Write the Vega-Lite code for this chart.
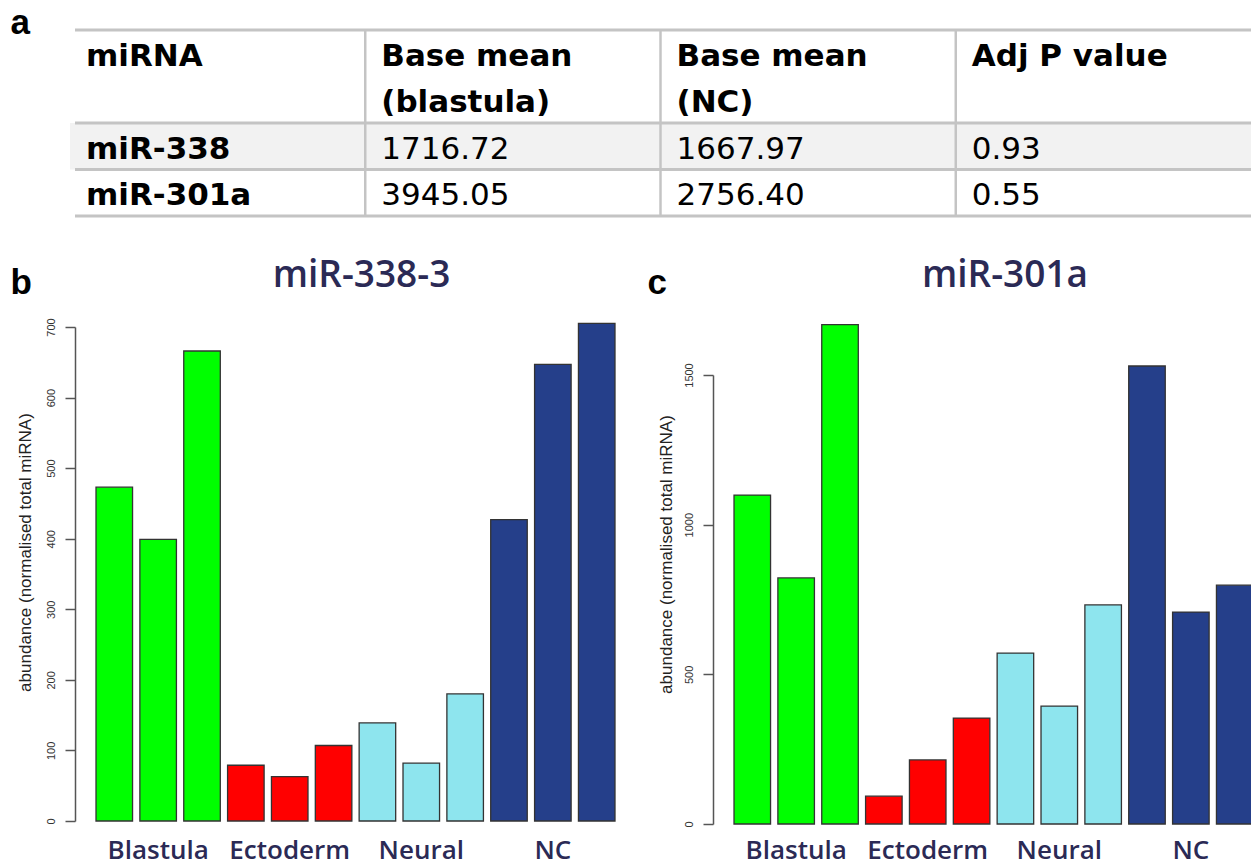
{
  "$schema": "https://vega.github.io/schema/vega-lite/v6.json",
  "background": "white",
  "padding": {"left": 10, "top": 5, "right": 0, "bottom": 0},
  "config": {"view": {"stroke": null}},
  "datasets": {
    "table": [
      {"row": "h1", "col": "c1", "text": "miRNA", "kind": "header"},
      {"row": "h1", "col": "c2", "text": "Base mean", "kind": "header"},
      {"row": "h1", "col": "c3", "text": "Base mean", "kind": "header"},
      {"row": "h1", "col": "c4", "text": "Adj P value", "kind": "header"},
      {"row": "h2", "col": "c1", "text": "", "kind": "header"},
      {"row": "h2", "col": "c2", "text": "(blastula)", "kind": "header"},
      {"row": "h2", "col": "c3", "text": "(NC)", "kind": "header"},
      {"row": "h2", "col": "c4", "text": "", "kind": "header"},
      {"row": "r1", "col": "c1", "text": "miR-338", "kind": "name"},
      {"row": "r1", "col": "c2", "text": "1716.72", "kind": "value"},
      {"row": "r1", "col": "c3", "text": "1667.97", "kind": "value"},
      {"row": "r1", "col": "c4", "text": "0.93", "kind": "value"},
      {"row": "r2", "col": "c1", "text": "miR-301a", "kind": "name"},
      {"row": "r2", "col": "c2", "text": "3945.05", "kind": "value"},
      {"row": "r2", "col": "c3", "text": "2756.40", "kind": "value"},
      {"row": "r2", "col": "c4", "text": "0.55", "kind": "value"}
    ],
    "mir338": [
      {"group": "Blastula", "rep": 1, "value": 473},
      {"group": "Blastula", "rep": 2, "value": 399},
      {"group": "Blastula", "rep": 3, "value": 666},
      {"group": "Ectoderm", "rep": 1, "value": 79},
      {"group": "Ectoderm", "rep": 2, "value": 63},
      {"group": "Ectoderm", "rep": 3, "value": 107},
      {"group": "Neural", "rep": 1, "value": 139},
      {"group": "Neural", "rep": 2, "value": 82},
      {"group": "Neural", "rep": 3, "value": 180},
      {"group": "NC", "rep": 1, "value": 427},
      {"group": "NC", "rep": 2, "value": 647},
      {"group": "NC", "rep": 3, "value": 705}
    ],
    "mir301": [
      {"group": "Blastula", "rep": 1, "value": 1099},
      {"group": "Blastula", "rep": 2, "value": 822},
      {"group": "Blastula", "rep": 3, "value": 1668},
      {"group": "Ectoderm", "rep": 1, "value": 93},
      {"group": "Ectoderm", "rep": 2, "value": 214},
      {"group": "Ectoderm", "rep": 3, "value": 354},
      {"group": "Neural", "rep": 1, "value": 571},
      {"group": "Neural", "rep": 2, "value": 394},
      {"group": "Neural", "rep": 3, "value": 732},
      {"group": "NC", "rep": 1, "value": 1530},
      {"group": "NC", "rep": 2, "value": 708},
      {"group": "NC", "rep": 3, "value": 798}
    ]
  },
  "columns": 1,
  "align": "none",
  "spacing": 39,
  "concat": [
    {
      "width": 1176,
      "height": 186,
      "data": {"name": "table"},
      "layer": [
        {
          "transform": [{"filter": "datum.row === 'r1'"}],
          "mark": {"type": "rect", "fill": "#f2f2f2"},
          "encoding": {
            "x": {"field": "col", "type": "nominal", "sort": ["c1", "c2", "c3", "c4"], "scale": {"paddingInner": 0, "paddingOuter": 0, "range": [-5, 1176]},
              "axis": {"orient": "top", "domain": false, "ticks": false, "labels": false, "grid": false, "title": "a", "titleX": -65, "titleY": 3, "titleAlign": "left", "titleBaseline": "alphabetic", "titleAngle": 0, "titleFont": "Liberation Sans", "titleFontSize": 35, "titleFontWeight": "bold", "titleColor": "#000000"}},
            "y": {"field": "row", "type": "nominal", "sort": ["h1", "h2", "r1", "r2"], "scale": {"paddingInner": 0, "paddingOuter": 0}, "axis": null}
          }
        },
        {
          "transform": [{"filter": "datum.col === 'c1' && datum.row !== 'h2'"}],
          "mark": {"type": "rule", "color": "#c4c4c4", "strokeWidth": 3},
          "encoding": {
            "y": {"field": "row", "type": "nominal", "sort": ["h1", "h2", "r1", "r2"], "bandPosition": 0, "axis": null}
          }
        },
        {
          "transform": [{"filter": "datum.col === 'c1' && datum.row === 'r2'"}],
          "mark": {"type": "rule", "color": "#c4c4c4", "strokeWidth": 3},
          "encoding": {
            "y": {"field": "row", "type": "nominal", "sort": ["h1", "h2", "r1", "r2"], "bandPosition": 1, "axis": null}
          }
        },
        {
          "transform": [{"filter": "datum.row === 'h1' && datum.col !== 'c1'"}],
          "mark": {"type": "rule", "color": "#c4c4c4", "strokeWidth": 2.5},
          "encoding": {
            "x": {"field": "col", "type": "nominal", "sort": ["c1", "c2", "c3", "c4"], "bandPosition": 0,
              "axis": {"orient": "top", "domain": false, "ticks": false, "labels": false, "grid": false, "title": "a", "titleX": -65, "titleY": 3, "titleAlign": "left", "titleBaseline": "alphabetic", "titleAngle": 0, "titleFont": "Liberation Sans", "titleFontSize": 35, "titleFontWeight": "bold", "titleColor": "#000000"}}
          }
        },
        {
          "transform": [{"filter": "datum.kind !== 'value'"}],
          "mark": {"type": "text", "align": "left", "baseline": "alphabetic", "dx": 16, "font": "DejaVu Sans", "fontSize": 31, "fontWeight": "bold", "color": "#000000"},
          "encoding": {
            "x": {"field": "col", "type": "nominal", "sort": ["c1", "c2", "c3", "c4"], "bandPosition": 0,
              "axis": {"orient": "top", "domain": false, "ticks": false, "labels": false, "grid": false, "title": "a", "titleX": -65, "titleY": 3, "titleAlign": "left", "titleBaseline": "alphabetic", "titleAngle": 0, "titleFont": "Liberation Sans", "titleFontSize": 35, "titleFontWeight": "bold", "titleColor": "#000000"}},
            "y": {"field": "row", "type": "nominal", "sort": ["h1", "h2", "r1", "r2"], "bandPosition": 0.77, "axis": null},
            "text": {"field": "text"}
          }
        },
        {
          "transform": [{"filter": "datum.kind === 'value'"}],
          "mark": {"type": "text", "align": "left", "baseline": "alphabetic", "dx": 16, "font": "DejaVu Sans", "fontSize": 31, "fontWeight": "normal", "color": "#000000"},
          "encoding": {
            "x": {"field": "col", "type": "nominal", "sort": ["c1", "c2", "c3", "c4"], "bandPosition": 0,
              "axis": {"orient": "top", "domain": false, "ticks": false, "labels": false, "grid": false, "title": "a", "titleX": -65, "titleY": 3, "titleAlign": "left", "titleBaseline": "alphabetic", "titleAngle": 0, "titleFont": "Liberation Sans", "titleFontSize": 35, "titleFontWeight": "bold", "titleColor": "#000000"}},
            "y": {"field": "row", "type": "nominal", "sort": ["h1", "h2", "r1", "r2"], "bandPosition": 0.77, "axis": null},
            "text": {"field": "text"}
          }
        }
      ]
    },
    {
      "columns": 2,
      "align": "none",
      "spacing": 11,
      "concat": [
        {
          "width": 561,
          "height": 494,
          "data": {"name": "mir338"},
          "title": {"text": "miR-338-3", "font": "Open Sans", "fontSize": 37, "fontWeight": 600, "color": "#2b2a55", "anchor": "middle", "frame": "group", "dx": 6, "baseline": "alphabetic", "offset": -59},
          "mark": {"type": "bar", "stroke": "#333333", "strokeWidth": 1.3},
          "encoding": {
            "x": {"field": "group", "type": "nominal", "sort": ["Blastula", "Ectoderm", "Neural", "NC"], "scale": {"paddingInner": 0, "paddingOuter": 0.132},
              "axis": {"title": "b", "titleX": -65, "titleY": -528, "titleAlign": "left", "titleBaseline": "alphabetic", "titleAngle": 0, "titleFont": "Liberation Sans", "titleFontSize": 35, "titleFontWeight": "bold", "titleColor": "#000000", "domain": false, "ticks": false, "grid": false, "labelAngle": 0, "labelFont": "Open Sans", "labelFontSize": 26, "labelFontWeight": 600, "labelColor": "#2b2a55", "labelPadding": 37, "labelBaseline": "alphabetic", "labelOverlap": false}},
            "xOffset": {"field": "rep", "type": "nominal", "scale": {"paddingInner": 0.167, "paddingOuter": 0.083}},
            "y": {"field": "value", "type": "quantitative", "scale": {"domain": [0, 700], "nice": false},
              "axis": {"title": "abundance (normalised total miRNA)", "values": [0, 100, 200, 300, 400, 500, 600, 700], "format": "d", "grid": false, "domainColor": "#555555", "domainWidth": 1.5, "tickColor": "#555555", "tickWidth": 1.5, "tickSize": 10, "labelAngle": -90, "labelAlign": "center", "labelBaseline": "alphabetic", "labelPadding": 11, "labelFont": "Liberation Sans", "labelFontSize": 11, "labelColor": "#333333", "titleFont": "Liberation Sans", "titleFontSize": 17, "titleFontWeight": "normal", "titleColor": "#222222", "titleX": -50, "titleY": 225, "titleAlign": "center", "titleBaseline": "middle", "titleAngle": -90}},
            "color": {"field": "group", "type": "nominal", "scale": {"domain": ["Blastula", "Ectoderm", "Neural", "NC"], "range": ["#00ff00", "#ff0000", "#8ee5ee", "#253f8a"]}, "legend": null}
          }
        },
        {
          "width": 538,
          "height": 497,
          "data": {"name": "mir301"},
          "title": {"text": "miR-301a", "font": "Open Sans", "fontSize": 37, "fontWeight": 600, "color": "#2b2a55", "anchor": "middle", "frame": "group", "dx": 23, "baseline": "alphabetic", "offset": -59},
          "mark": {"type": "bar", "stroke": "#333333", "strokeWidth": 1.3},
          "encoding": {
            "x": {"field": "group", "type": "nominal", "sort": ["Blastula", "Ectoderm", "Neural", "NC"], "scale": {"paddingInner": 0, "paddingOuter": 0.132, "range": [0, 561]},
              "axis": {"title": "c", "titleX": -66, "titleY": -531, "titleAlign": "left", "titleBaseline": "alphabetic", "titleAngle": 0, "titleFont": "Liberation Sans", "titleFontSize": 35, "titleFontWeight": "bold", "titleColor": "#000000", "domain": false, "ticks": false, "grid": false, "labelAngle": 0, "labelFont": "Open Sans", "labelFontSize": 26, "labelFontWeight": 600, "labelColor": "#2b2a55", "labelPadding": 34, "labelBaseline": "alphabetic", "labelOverlap": false}},
            "xOffset": {"field": "rep", "type": "nominal", "scale": {"paddingInner": 0.167, "paddingOuter": 0.083}},
            "y": {"field": "value", "type": "quantitative", "scale": {"domain": [0, 1500], "nice": false, "range": [497, 48]},
              "axis": {"title": "abundance (normalised total miRNA)", "values": [0, 500, 1000, 1500], "format": "d", "grid": false, "domainColor": "#555555", "domainWidth": 1.5, "tickColor": "#555555", "tickWidth": 1.5, "tickSize": 10, "labelAngle": -90, "labelAlign": "center", "labelBaseline": "alphabetic", "labelPadding": 11, "labelFont": "Liberation Sans", "labelFontSize": 11, "labelColor": "#333333", "titleFont": "Liberation Sans", "titleFontSize": 17, "titleFontWeight": "normal", "titleColor": "#222222", "titleX": -47, "titleY": 227, "titleAlign": "center", "titleBaseline": "middle", "titleAngle": -90}},
            "color": {"field": "group", "type": "nominal", "scale": {"domain": ["Blastula", "Ectoderm", "Neural", "NC"], "range": ["#00ff00", "#ff0000", "#8ee5ee", "#253f8a"]}, "legend": null}
          }
        }
      ]
    }
  ]
}
